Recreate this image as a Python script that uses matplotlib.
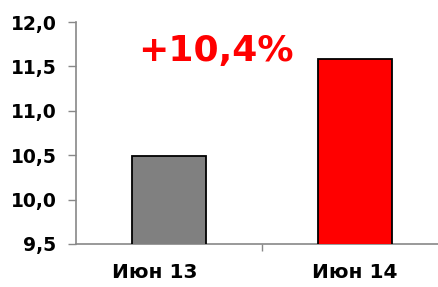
import matplotlib.pyplot as plt
import matplotlib.transforms as mtransforms
from matplotlib.ticker import FuncFormatter

categories = ['Июн 13', 'Июн 14']
values = [10.49, 11.58]
colors = ['#808080', '#ff0000']
change_label = '+10,4%'

plt.rcParams['font.family'] = ['DejaVu Sans']

fig = plt.figure(figsize=(4.39, 2.87), dpi=100)
ax = fig.add_axes([0.173, 0.150, 0.847, 0.773])

x = range(len(categories))
ax.bar(x, values, width=0.40, color=colors, edgecolor='black', linewidth=1.3,
       bottom=0, zorder=3)

ax.set_ylim(9.5, 12.0)
ax.set_xlim(-0.5, 1.5)
ax.set_yticks([9.5, 10.0, 10.5, 11.0, 11.5, 12.0])
ax.yaxis.set_major_formatter(FuncFormatter(lambda v, p: f'{v:.1f}'.replace('.', ',')))

ax.set_xticks(list(x))
ax.set_xticklabels(categories)
ax.set_xticks([0.5], minor=True)
ax.tick_params(axis='x', which='major', length=0, pad=14)
ax.tick_params(axis='x', which='minor', length=5, color='#888888', width=1)
ax.tick_params(axis='y', length=6, color='#888888', width=1, pad=8)

for lbl in ax.get_yticklabels():
    lbl.set_fontweight('bold')
    lbl.set_fontsize(13.5)
for lbl in ax.get_xticklabels():
    lbl.set_fontweight('bold')
    lbl.set_fontsize(14.5)

# первая подпись в оригинале сдвинута чуть влево
shift = mtransforms.ScaledTranslation(-0.14, 0, fig.dpi_scale_trans)
first = ax.get_xticklabels()[0]
first.set_transform(first.get_transform() + shift)

for side in ['top', 'right']:
    ax.spines[side].set_visible(False)
for side in ['left', 'bottom']:
    ax.spines[side].set_color('#888888')
    ax.spines[side].set_linewidth(1.2)

ax.text(0.377, 0.87, change_label, transform=ax.transAxes, ha='center', va='center',
        color='#ff0000', fontsize=26, fontweight='bold')

fig.savefig('out.png', dpi=100)
